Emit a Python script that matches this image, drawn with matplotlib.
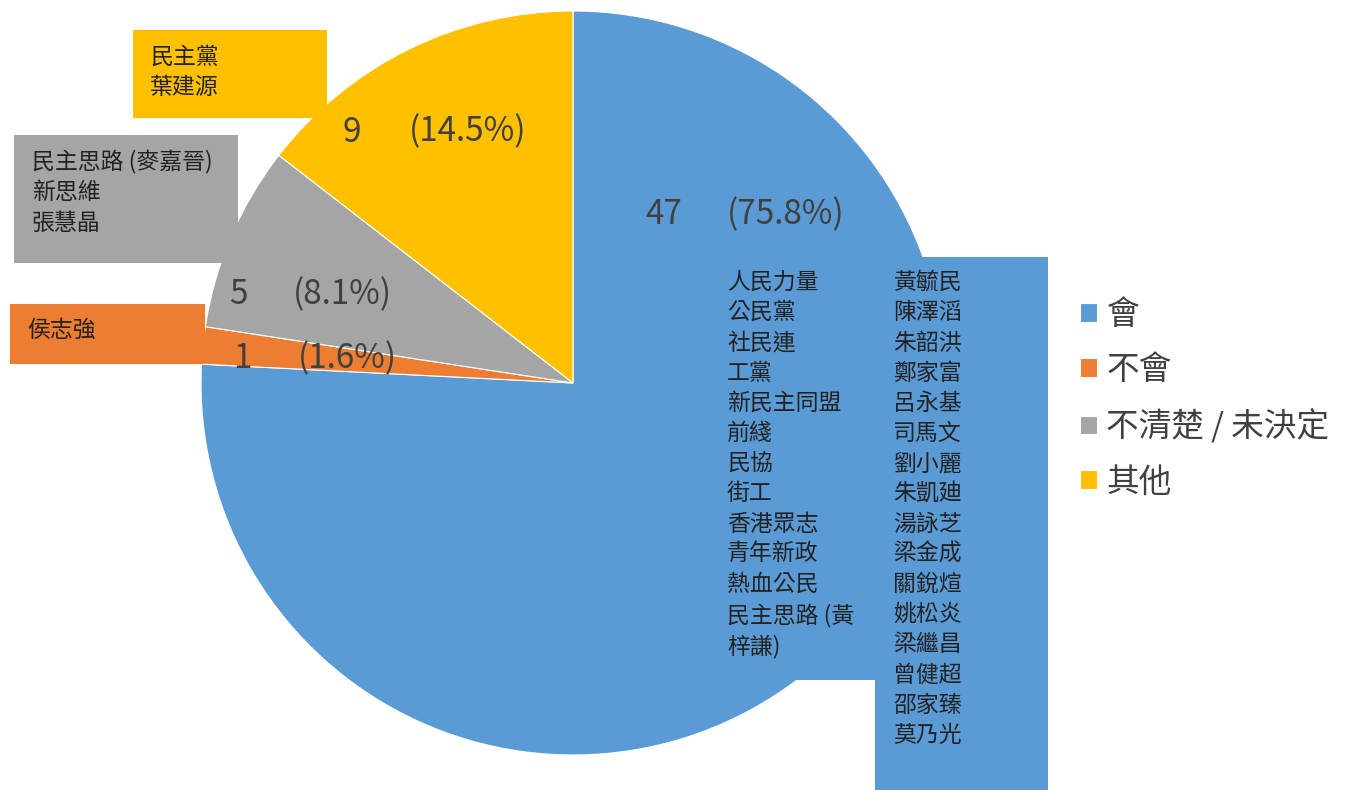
import matplotlib.pyplot as plt
from matplotlib.patches import Rectangle

plt.rcParams['font.family'] = ['Noto Sans CJK TC', 'DejaVu Sans']

# data
categories = ['會', '不會', '不清楚 / 未決定', '其他']
counts = [47, 1, 5, 9]
colors = ['#5B9BD5', '#ED7D31', '#A5A5A5', '#FFC000']

names_yes_left = ['人民力量', '公民黨', '社民連', '工黨', '新民主同盟', '前綫', '民協',
                  '街工', '香港眾志', '青年新政', '熱血公民', '民主思路 (黃', '梓謙)']
names_yes_right = ['黃毓民', '陳澤滔', '朱韶洪', '鄭家富', '呂永基', '司馬文', '劉小麗',
                   '朱凱廸', '湯詠芝', '梁金成', '關銳煊', '姚松炎', '梁繼昌', '曾健超',
                   '邵家臻', '莫乃光']
names_no = ['侯志強']
names_unsure = ['民主思路 (麥嘉晉)', '新思維', '張慧晶']
names_other = ['民主黨', '葉建源']

W, H = 1349, 790
fig = plt.figure(figsize=(W / 100, H / 100), dpi=100)
ax = fig.add_axes([0, 0, 1, 1])


def Y(y):
    # pixel row -> data y
    return H - y


wedges, _ = ax.pie(counts, colors=colors, startangle=90, counterclock=False,
                   center=(573, Y(383)), radius=372,
                   wedgeprops=dict(linewidth=0.8, edgecolor='white'))
ax.set_xlim(0, W)
ax.set_ylim(0, H)
ax.set_aspect('auto')
ax.axis('off')


# callout boxes (same colour as their slice)
def box(x0, y0, x1, y1, color):
    ax.add_patch(Rectangle((x0, Y(y1)), x1 - x0, y1 - y0, facecolor=color,
                           edgecolor='none', zorder=3))

box(133, 30, 327, 118, colors[3])
box(14, 135, 238, 263, colors[2])
box(10, 304, 205, 364, colors[1])
box(720, 257, 875, 680, colors[0])
box(875, 257, 1048, 790, colors[0])

txt_color = '#222222'
fs_box = 16.5
ls_box = 1.40


def names(x, y, lines):
    ax.text(x, Y(y), '\n'.join(lines), fontsize=fs_box, color=txt_color,
            ha='left', va='top', linespacing=ls_box, zorder=4)

names(150, 46, names_other)
names(32, 150, names_unsure)
names(27, 319, names_no)
names(727, 271, names_yes_left)
names(893, 271, names_yes_right)

# value labels: count, then percentage further right
total = sum(counts)
num_pos = [(645, 215), (233, 359), (229, 295), (343, 132)]
pct_x = [727, 298, 293, 409]
for v, (x, y), px in zip(counts, num_pos, pct_x):
    ax.text(x, Y(y), f'{v}', fontsize=24, color='#404040',
            ha='left', va='center', zorder=4)
    ax.text(px, Y(y), f'({v / total * 100:.1f}%)', fontsize=24,
            color='#404040', ha='left', va='center', zorder=4)

leg = ax.legend(wedges, categories, loc='upper left',
                bbox_to_anchor=(1051 / W, 1 - 270 / H), frameon=False,
                fontsize=23.5, labelcolor='#404040', handlelength=0.5,
                handleheight=0.5, handletextpad=0.3, labelspacing=0.7)

fig.savefig('out.png', dpi=100)
